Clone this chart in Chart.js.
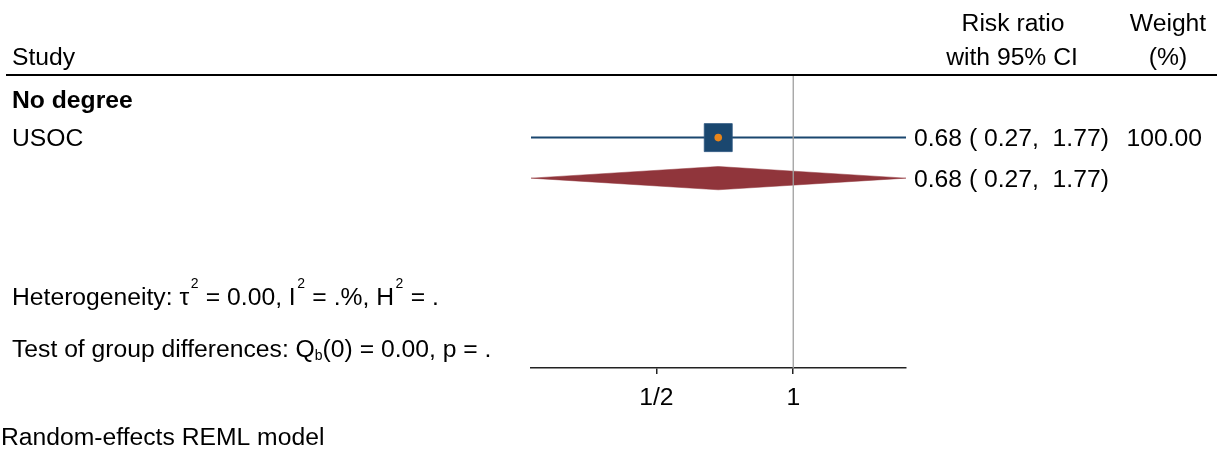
<!DOCTYPE html>
<html>
<head>
<meta charset="utf-8">
<script src="https://cdn.jsdelivr.net/npm/chart.js@4.4.1/dist/chart.umd.min.js"></script>
<style>
html,body{margin:0;padding:0;background:#fff;}
canvas{display:block;}
</style>
</head>
<body>
<canvas id="c" width="1225" height="457"></canvas>
<script>
// ---------- data ----------
const groupNames   = ['No degree'];
const studyNames   = ['USOC'];
const studyRR      = [0.684];
const studyLow     = [0.265];
const studyHigh    = [1.77];
const studyWeight  = [100.00];
const overallRR    = [0.684];
const overallLow   = [0.265];
const overallHigh  = [1.77];
const tickValues   = [0.5, 1];
const tickLabels   = ['1/2', '1'];
const ciLabels     = ['0.68 ( 0.27,  1.77)'];
const overallLabel = ['0.68 ( 0.27,  1.77)'];
const weightLabels = ['100.00'];

// ---------- layout (row positions in y-scale units) ----------
const ROW = { h1: -1.32, h2: -0.47, group: 0.59, study: 1.56, overall: 2.57, het: 5.52, test: 6.8, foot: 8.99 };
const Y_MAX = 7.3;
const DIAMOND_HALF = 0.29;

const NAVY = '#1a476f', ORANGE = '#e8851a', CRAN = '#90353b';
const FS = 24.7;
const FONT = '"Liberation Sans", Arial, sans-serif';

const textPlugin = {
  id: 'forestText',
  afterDraw(chart) {
    const ctx = chart.ctx;
    const ys = chart.scales.y;
    const xs = chart.scales.x;
    const base = v => ys.getPixelForValue(v) + 0.358 * FS;
    ctx.save();
    ctx.fillStyle = '#000';
    ctx.textBaseline = 'alphabetic';
    const f = (w, s) => `${w} ${s}px ${FONT}`;

    // header rule
    ctx.strokeStyle = '#000';
    ctx.lineWidth = 2;
    ctx.beginPath();
    ctx.moveTo(6, ys.getPixelForValue(0));
    ctx.lineTo(1217, ys.getPixelForValue(0));
    ctx.stroke();

    ctx.font = f('normal', FS);
    ctx.textAlign = 'left';
    ctx.fillText('Study', 12, base(ROW.h2));
    ctx.textAlign = 'center';
    ctx.fillText('Risk ratio', 1013, base(ROW.h1));
    ctx.fillText('with 95% CI', 1012, base(ROW.h2));
    ctx.fillText('Weight', 1168, base(ROW.h1));
    ctx.fillText('(%)', 1168, base(ROW.h2));

    ctx.textAlign = 'left';
    ctx.font = f('bold', FS);
    groupNames.forEach(g => ctx.fillText(g, 12, base(ROW.group)));
    ctx.font = f('normal', FS);
    studyNames.forEach(s => ctx.fillText(s, 12, base(ROW.study)));

    const cx = xs.right + 8;
    ciLabels.forEach(t => ctx.fillText(t, cx, base(ROW.study)));
    overallLabel.forEach(t => ctx.fillText(t, cx, base(ROW.overall)));
    ctx.textAlign = 'right';
    weightLabels.forEach(t => ctx.fillText(t, 1202, base(ROW.study)));
    ctx.textAlign = 'left';

    // heterogeneity line with superscripts
    const drawSeq = (parts, x0, by) => {
      let x = x0;
      parts.forEach(p => {
        if (p.sup) {
          ctx.font = f('normal', 14);
          x += 1.5;
          ctx.fillText(p.t, x, by - 17);
          x += ctx.measureText(p.t).width + 0.5;
        } else if (p.sub) {
          ctx.font = f('normal', 14);
          ctx.fillText(p.t, x, by + 3);
          x += ctx.measureText(p.t).width;
        } else {
          ctx.font = f('normal', FS);
          ctx.fillText(p.t, x, by);
          x += ctx.measureText(p.t).width;
        }
      });
    };
    drawSeq([
      { t: 'Heterogeneity: \u03C4' }, { t: '2', sup: true },
      { t: ' = 0.00, I' }, { t: '2', sup: true },
      { t: ' = .%, H' }, { t: '2', sup: true },
      { t: ' = .' }
    ], 12, base(ROW.het));
    drawSeq([
      { t: 'Test of group differences: Q' }, { t: 'b', sub: true },
      { t: '(0) = 0.00, p = .' }
    ], 12, base(ROW.test));

    ctx.font = f('normal', FS);
    ctx.fillText('Random-effects REML model', 1, base(ROW.foot));
    ctx.restore();
  }
};

const ov = overallRR[0], ol = overallLow[0], oh = overallHigh[0];
const chart = new Chart(document.getElementById('c'), {
  type: 'scatter',
  data: {
    datasets: [
      { // reference line at 1
        data: [{ x: 1, y: 0 }, { x: 1, y: Y_MAX }],
        showLine: true, borderColor: '#a0a0a0', borderWidth: 1.3,
        pointRadius: 0, order: 0, clip: false
      },
      { // CI line
        data: studyRR.map((v, i) => [{ x: studyLow[i], y: ROW.study }, { x: studyHigh[i], y: ROW.study }]).flat(),
        showLine: true, borderColor: NAVY, borderWidth: 2,
        pointRadius: 0, order: 4, clip: false
      },
      { // overall diamond
        data: [
          { x: ol, y: ROW.overall }, { x: ov, y: ROW.overall - DIAMOND_HALF },
          { x: oh, y: ROW.overall }, { x: ov, y: ROW.overall + DIAMOND_HALF },
          { x: ol, y: ROW.overall }
        ],
        showLine: true, fill: 'shape', backgroundColor: CRAN, borderColor: CRAN,
        borderWidth: 0.5, pointRadius: 0, order: 3, clip: false
      },
      { // study square
        data: studyRR.map(v => ({ x: v, y: ROW.study })),
        pointStyle: 'rect', pointRadius: 19.8, backgroundColor: NAVY,
        borderColor: '#2c5680', borderWidth: 0.8, order: 2, clip: false
      },
      { // point estimate dot
        data: studyRR.map(v => ({ x: v, y: ROW.study })),
        pointStyle: 'circle', pointRadius: 3.8, backgroundColor: ORANGE,
        borderWidth: 0, order: 1, clip: false
      }
    ]
  },
  options: {
    responsive: false,
    animation: false,
    devicePixelRatio: 1,
    events: [],
    layout: { padding: { left: 531, right: 319, top: 75, bottom: 0 } },
    plugins: { legend: { display: false }, tooltip: { enabled: false } },
    scales: {
      x: {
        type: 'logarithmic',
        position: 'bottom',
        min: studyLow[0],
        max: studyHigh[0],
        afterBuildTicks: s => { s.ticks = tickValues.map(v => ({ value: v })); },
        afterFit: s => { s.height = 89; },
        ticks: {
          autoSkip: false, maxRotation: 0, padding: 9,
          color: '#000',
          font: { family: FONT, size: FS },
          callback: (v) => { const i = tickValues.indexOf(v); return i >= 0 ? tickLabels[i] : ''; }
        },
        grid: { display: true, drawOnChartArea: false, drawTicks: true, tickLength: 6, color: '#222', lineWidth: 1.5 },
        border: { display: true, color: '#222', width: 1.5 }
      },
      y: {
        type: 'linear', reverse: true, min: 0, max: Y_MAX, display: false
      }
    }
  },
  plugins: [textPlugin]
});
</script>
</body>
</html>
